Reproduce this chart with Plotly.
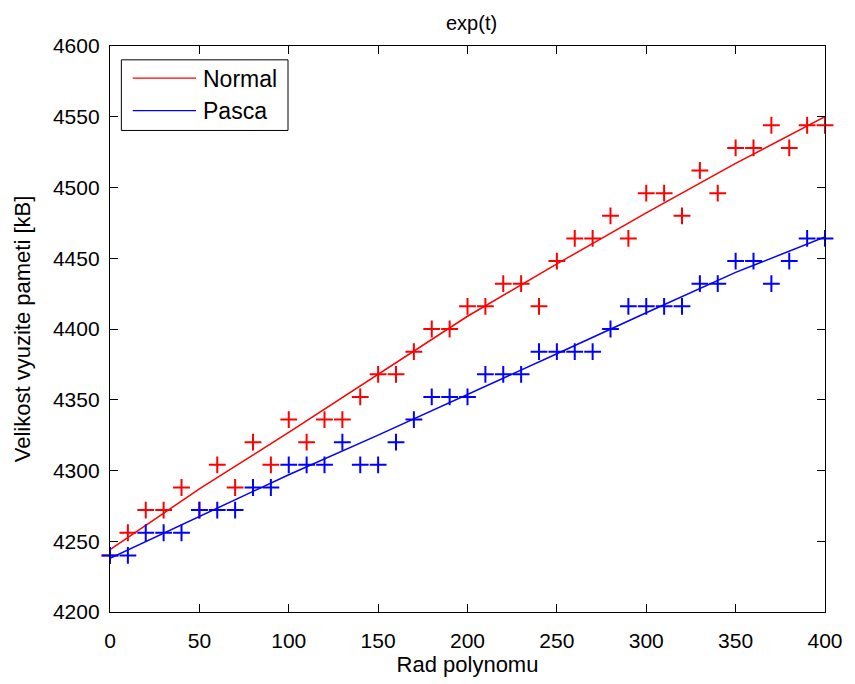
import plotly.graph_objects as go

# ---- data ----
t_points = list(range(0, 401, 10))
normal_points = [4240, 4256, 4272, 4272, 4288, 4272, 4304, 4288, 4320, 4304,
                 4336, 4320, 4336, 4336, 4352, 4368, 4368, 4384, 4400, 4400,
                 4416, 4416, 4432, 4432, 4416, 4448, 4464, 4464, 4480, 4464,
                 4496, 4496, 4480, 4512, 4496, 4528, 4528, 4544, 4528, 4544, 4544]
pasca_points = [4240, 4240, 4256, 4256, 4256, 4272, 4272, 4272, 4288, 4288,
                4304, 4304, 4304, 4320, 4304, 4304, 4320, 4336, 4352, 4352,
                4352, 4368, 4368, 4368, 4384, 4384, 4384, 4384, 4400, 4416,
                4416, 4416, 4416, 4432, 4432, 4448, 4448, 4432, 4448, 4464, 4464]

t_line = [0, 50, 100, 150, 200, 250, 300, 350, 400]
normal_line = [4244, 4287, 4327, 4368, 4409, 4446, 4482, 4517, 4550]
pasca_line = [4238, 4267.5, 4297, 4325, 4353.5, 4382.5, 4411.5, 4440, 4465]

x_ticks = [0, 50, 100, 150, 200, 250, 300, 350, 400]
y_ticks = [4200, 4250, 4300, 4350, 4400, 4450, 4500, 4550, 4600]

title_text = "exp(t)"
x_label = "Rad polynomu"
y_label = "Velikost vyuzite pameti [kB]"
series_names = ["Normal", "Pasca"]

RED = "#ff0000"
BLUE = "#0000ff"
FONT = "Liberation Sans, Arial, sans-serif"

fig = go.Figure()

fig.add_trace(go.Scatter(x=t_line, y=normal_line, mode="lines", name=series_names[0],
                         line=dict(color=RED, width=1.5), showlegend=False))
fig.add_trace(go.Scatter(x=t_points, y=normal_points, mode="markers", name=series_names[0] + " data",
                         marker=dict(symbol="cross-thin", size=12, color=RED,
                                     line=dict(color=RED, width=2)),
                         cliponaxis=False, showlegend=False))
fig.add_trace(go.Scatter(x=t_line, y=pasca_line, mode="lines", name=series_names[1],
                         line=dict(color=BLUE, width=1.5), showlegend=False))
fig.add_trace(go.Scatter(x=t_points, y=pasca_points, mode="markers", name=series_names[1] + " data",
                         marker=dict(symbol="cross-thin", size=12, color=BLUE,
                                     line=dict(color=BLUE, width=2)),
                         cliponaxis=False, showlegend=False))

# manual MATLAB-style legend box
L, R, T, B = 110, 833, 46, 619
W, H = R - L, B - T
def px(x):
    return (x - L) / W
def py(y):
    return (B - y) / H

shapes = [
    dict(type="rect", xref="paper", yref="paper", x0=px(121.5), x1=px(290), y0=py(131.5), y1=py(60),
         line=dict(color="black", width=1), fillcolor="white", layer="above"),
    dict(type="line", xref="paper", yref="paper", x0=px(133), x1=px(197), y0=py(78.5), y1=py(78.5),
         line=dict(color=RED, width=1.2), layer="above"),
    dict(type="line", xref="paper", yref="paper", x0=px(133), x1=px(197), y0=py(111.5), y1=py(111.5),
         line=dict(color=BLUE, width=1.2), layer="above"),
]
annotations = [
    dict(text=series_names[0], xref="paper", yref="paper", x=px(202), y=py(79), xanchor="left",
         yanchor="middle", showarrow=False, font=dict(family=FONT, size=23, color="black")),
    dict(text=series_names[1], xref="paper", yref="paper", x=px(202), y=py(112), xanchor="left",
         yanchor="middle", showarrow=False, font=dict(family=FONT, size=23, color="black")),
    dict(text=title_text, xref="paper", yref="paper", x=px(476), y=py(23), xanchor="center",
         yanchor="middle", showarrow=False, font=dict(family=FONT, size=20, color="black")),
]

axis_common = dict(showline=True, linecolor="black", linewidth=1.3, mirror="ticks",
                   ticks="inside", ticklen=8, tickwidth=1.3, tickcolor="black",
                   showgrid=False, zeroline=False,
                   tickfont=dict(family=FONT, size=21, color="black"))

fig.update_layout(
    width=855, height=684,
    margin=dict(l=L, r=855 - R, t=T, b=684 - B),
    paper_bgcolor="white", plot_bgcolor="white",
    xaxis=dict(range=[0, 400], tickvals=x_ticks, ticktext=[str(v) for v in x_ticks],
               ticklabelstandoff=10,
               title=dict(text=x_label, font=dict(family=FONT, size=22, color="black"), standoff=4),
               **axis_common),
    yaxis=dict(range=[4200, 4600], tickvals=y_ticks, ticktext=[str(v) for v in y_ticks],
               ticklabelstandoff=5,
               title=dict(text=y_label, font=dict(family=FONT, size=22, color="black"), standoff=16),
               **axis_common),
    shapes=shapes, annotations=annotations, showlegend=False,
)

fig.write_html("out.html",
               post_script="document.body.style.margin='0';document.body.style.overflow='hidden';")
